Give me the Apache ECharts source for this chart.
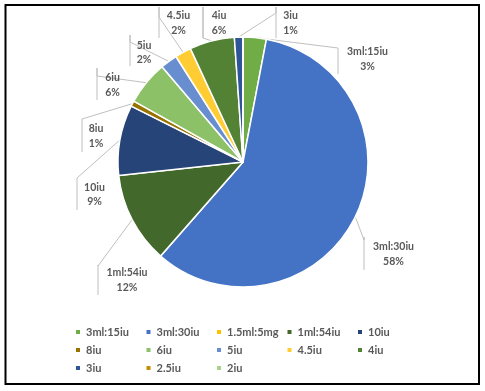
<!DOCTYPE html>
<html>
<head>
<meta charset="utf-8">
<script src="https://cdn.jsdelivr.net/npm/echarts@6/dist/echarts.min.js"></script>
<style>
html,body{margin:0;padding:0;background:#fff;}
#chart{width:485px;height:391px;}
</style>
</head>
<body>
<div id="chart"></div>
<script>
const categories = ['3ml:15iu','3ml:30iu','1.5ml:5mg','1ml:54iu','10iu','8iu','6iu','5iu','4.5iu','4iu','3iu','2.5iu','2iu'];
const values = [3.0, 58.4, 0, 11.8, 9.1, 0.7, 5.7, 2.2, 2.1, 5.8, 1.1, 0, 0];
const colors = ['#70AD47','#4472C4','#FFC000','#43682B','#264478','#997300','#8CC168','#698ED0','#FFCD33','#548235','#2F5597','#BF9000','#A9D18E'];

// Excel-style label placement (label centre, leader-bar x, bar top/bottom, attach y)
const labelSpots = {
  '3ml:15iu': {cx:367.5, cy:59,  bx:338, top:48,  bot:74,  at:48},
  '3ml:30iu': {cx:393.5, cy:254, bx:364, top:237, bot:270, at:240},
  '1ml:54iu': {cx:127,   cy:280, bx:98,  top:265, bot:295, at:266},
  '10iu':     {cx:94.5,  cy:194.5,bx:77, top:178, bot:210, at:178},
  '8iu':      {cx:96,    cy:136, bx:82,  top:119, bot:152, at:119},
  '6iu':      {cx:112.5, cy:85,  bx:97,  top:68,  bot:100, at:76},
  '5iu':      {cx:144,   cy:52.5,bx:130, top:35,  bot:66,  at:42},
  '4.5iu':    {cx:178.5, cy:23,  bx:159, top:7,   bot:38,  at:17},
  '4iu':      {cx:219,   cy:23,  bx:203, top:7,   bot:38,  at:38},
  '3iu':      {cx:290.5, cy:23,  bx:276, top:7,   bot:38,  at:13}
};

const chart = echarts.init(document.getElementById('chart'), null, {renderer:'canvas'});
const data = categories.map((c,i)=>{
  const item = {name:c, value:values[i], itemStyle:{color:colors[i]}};
  if (values[i] === 0) { item.label = {show:false}; item.labelLine = {show:false}; }
  return item;
});
const legendFont = {fontFamily:'Lato, Liberation Sans, sans-serif', fontSize:11, fontWeight:'bold', color:'#595959', width:58.5, lineHeight:14};
function legendRow(names, top){
  return {data:names, left:74, top:top, padding:0, orient:'horizontal', itemWidth:6, itemHeight:6, itemGap:0, icon:'rect', textStyle:legendFont, selectedMode:false};
}
chart.setOption({
  animation:false,
  color:colors,
  graphic:[{type:'rect', shape:{x:5.5,y:5,width:473.5,height:379}, style:{fill:'none', stroke:'#000', lineWidth:2}, z:100}],
  legend:[legendRow(categories.slice(0,5),325), legendRow(categories.slice(5,10),343), legendRow(categories.slice(10),361)],
  series:[{
    type:'pie',
    center:[243,162],
    radius:[0,125],
    startAngle:90,
    clockwise:true,
    avoidLabelOverlap:false,
    itemStyle:{borderColor:'#fff', borderWidth:1.5},
    label:{
      show:true, position:'outside',
      formatter:p=>p.name+'\n'+Math.round(p.percent)+'%',
      fontFamily:'Lato, Liberation Sans, sans-serif', fontSize:10.5, fontWeight:'bold', color:'#595959', lineHeight:14.5, align:'center'
    },
    labelLine:{show:true, length:12, length2:12, lineStyle:{color:'#bfbfbf', width:1}},
    labelLayout:function(params){
      const s = labelSpots[categories[params.dataIndex]];
      if (!s || !params.labelLinePoints) return {};
      const p0 = params.labelLinePoints[0];
      return {
        x:s.cx, y:s.cy, align:'center', verticalAlign:'middle',
        labelLinePoints:[p0, [s.bx, s.at], [s.bx, s.top], [s.bx, s.bot]]
      };
    },
    data:data
  }]
});
</script>
</body>
</html>
